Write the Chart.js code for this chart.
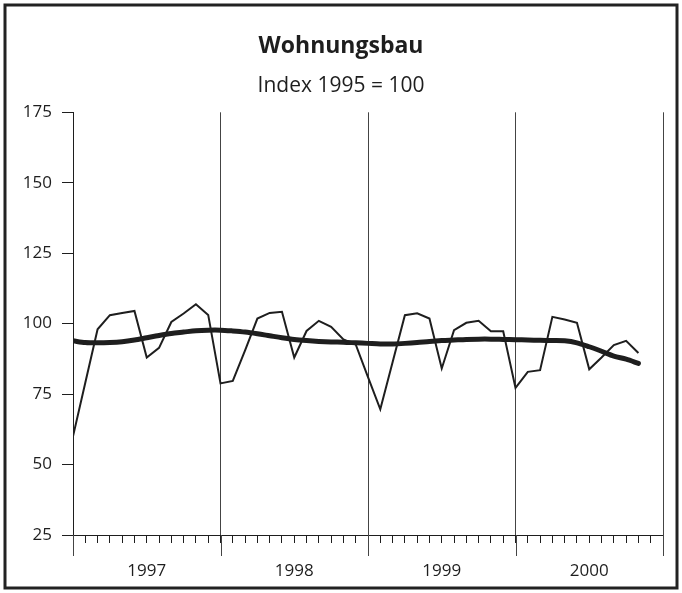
<!DOCTYPE html>
<html>
<head>
<meta charset="utf-8">
<script src="https://cdn.jsdelivr.net/npm/chart.js@4.4.1/dist/chart.umd.min.js"></script>
<style>
  html, body { margin: 0; padding: 0; background: #fff; }
</style>
</head>
<body>
<canvas id="chart" width="682" height="593"></canvas>
<script>
// Wohnungsbau, Index 1995 = 100, Monatswerte Jan 1997 - Nov 2000
const years = ['1997', '1998', '1999', '2000'];
const yTicks = [25, 50, 75, 100, 125, 150, 175];

const monthly = [
  60, 79, 98, 103, 103.8, 104.5, 88, 91.4, 100.6, 103.6, 106.9, 103.1,
  78.8, 79.7, 90.5, 101.8, 103.8, 104.2, 88, 97.4, 101, 98.9, 94.4, 92.6,
  81, 69.6, 86.3, 103, 103.7, 101.8, 84.1, 97.7, 100.3, 101, 97.3, 97.3,
  77.2, 82.9, 83.5, 102.4, 101.5, 100.3, 83.8, 88, 92.4, 93.9, 89.6
];

const trend = [
  93.9, 93.3, 93.2, 93.3, 93.6, 94.2, 95, 95.8, 96.5, 97, 97.5, 97.7,
  97.7, 97.4, 97, 96.4, 95.7, 95, 94.4, 94, 93.7, 93.5, 93.4, 93.2,
  93, 92.8, 92.8, 93, 93.3, 93.7, 94, 94.2, 94.4, 94.5, 94.5, 94.4,
  94.3, 94.2, 94.1, 94, 93.9, 93.2, 91.8, 90.2, 88.5, 87.4, 85.9
];

const ink = '#1e1e1e';
const font = '"Open Sans", "Noto Sans", sans-serif';

// Rahmen ums Bild + verlaengerte Jahrestriche unter der Achse
const extras = {
  id: 'extras',
  beforeDraw(chart) {
    const c = chart.ctx;
    c.save();
    c.strokeStyle = '#222';
    c.lineWidth = 3;
    c.strokeRect(5, 5, 672, 583);
    c.restore();
  },
  afterDraw(chart) {
    const c = chart.ctx;
    const x = chart.scales.x;
    c.save();
    c.strokeStyle = '#444';
    c.lineWidth = 1;
    for (let m = 0; m <= years.length * 12; m += 12) {
      const px = Math.round(x.getPixelForValue(m)) + 0.5;
      c.beginPath();
      c.moveTo(px, x.top);
      c.lineTo(px, x.top + 21);
      c.stroke();
    }
    c.restore();
  }
};

new Chart(document.getElementById('chart').getContext('2d'), {
  type: 'line',
  data: {
    datasets: [
      {
        data: monthly.map((v, i) => ({ x: i, y: v })),
        borderColor: ink,
        borderWidth: 2,
        pointRadius: 0,
        tension: 0,
        fill: false,
      },
      {
        data: trend.map((v, i) => ({ x: i, y: v })),
        borderColor: ink,
        borderWidth: 5,
        borderCapStyle: 'round',
        borderJoinStyle: 'round',
        pointRadius: 0,
        tension: 0.3,
        fill: false,
      },
    ],
  },
  options: {
    responsive: false,
    animation: false,
    layout: { padding: { left: 19, right: 19, top: 0, bottom: 0 } },
    plugins: {
      legend: { display: false },
      tooltip: { enabled: false },
      title: {
        display: true,
        text: 'Wohnungsbau',
        color: ink,
        font: { family: font, size: 23, weight: 'bold' },
        padding: { top: 33, bottom: 13 },
      },
      subtitle: {
        display: true,
        text: 'Index 1995 = 100',
        color: ink,
        font: { family: font, size: 21 },
        padding: { top: 0, bottom: 13.5 },
      },
    },
    scales: {
      x: {
        type: 'linear',
        min: 0,
        max: years.length * 12,
        afterFit: (s) => { s.height = 58; },
        afterBuildTicks: (s) => {
          s.ticks = Array.from({ length: years.length * 12 + 1 }, (_, i) => ({ value: i }));
        },
        border: { display: true, color: ink, width: 1 },
        grid: {
          color: (ctx) => (ctx.tick && ctx.tick.value % 12 === 0 ? '#444' : 'rgba(0,0,0,0)'),
          tickColor: ink,
          tickLength: 8,
          lineWidth: 1,
        },
        ticks: {
          autoSkip: false,
          maxRotation: 0,
          color: ink,
          font: { family: font, size: 17 },
          padding: 18,
          callback: (v) => (v % 12 === 6 ? years[(v - 6) / 12] : ''),
        },
      },
      y: {
        min: 25,
        max: 175,
        afterFit: (s) => { s.width = 54; },
        afterBuildTicks: (s) => { s.ticks = yTicks.map((v) => ({ value: v })); },
        border: { display: true, color: ink, width: 1 },
        grid: {
          drawOnChartArea: false,
          tickColor: ink,
          tickLength: 11,
        },
        ticks: {
          color: ink,
          font: { family: font, size: 17 },
          padding: 10,
        },
      },
    },
  },
  plugins: [extras],
});
</script>
</body>
</html>
